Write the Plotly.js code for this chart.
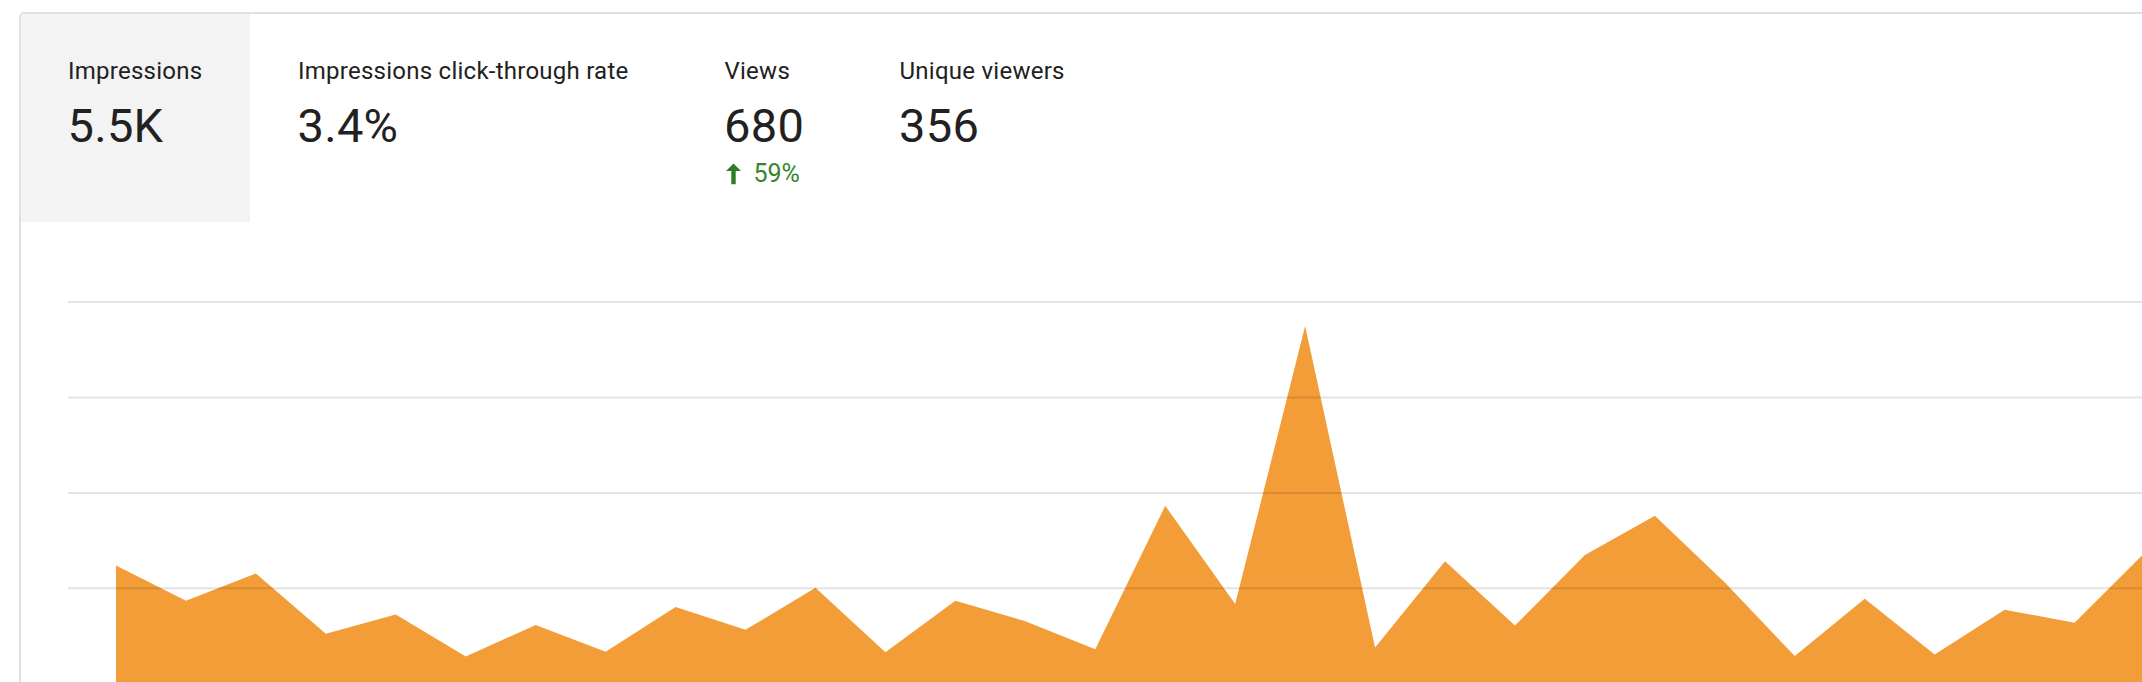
<!DOCTYPE html>
<html>
<head>
<meta charset="utf-8">
<script src="https://cdn.plot.ly/plotly-3.0.1.min.js"></script>
<style>
  html, body { margin: 0; padding: 0; background: #ffffff; width: 2142px; height: 682px; overflow: hidden; font-family: Roboto, "Noto Sans", sans-serif; }
  #card { position: absolute; left: 19px; top: 12px; width: 3000px; height: 1000px; border: 2px solid #e0e0e0; border-radius: 5px; box-sizing: border-box; }
  #tile { position: absolute; left: 21px; top: 14px; width: 229px; height: 208px; background: #f3f3f3; border-top-left-radius: 3px; }
  #chart { position: absolute; left: 0; top: 0; width: 2142px; height: 682px; }
  .lbl { position: absolute; font-size: 24px; line-height: 24px; letter-spacing: 0.25px; color: #212121; white-space: nowrap; top: 58.8px; }
  .num { position: absolute; font-size: 47px; line-height: 47px; letter-spacing: 0.3px; color: #212121; white-space: nowrap; top: 102px; }
  .delta { position: absolute; font-size: 25px; line-height: 25px; color: #34862b; white-space: nowrap; top: 160.6px; }
</style>
</head>
<body>
<div id="card"></div>
<div id="tile"></div>
<div id="chart"></div>
<div id="header"></div>
<script>
// ---- data ----
const days = [1,2,3,4,5,6,7,8,9,10,11,12,13,14,15,16,17,18,19,20,21,22,23,24,25,26,27,28,29,30];
const impressions = [248,174,231,105,145,57,123,67,161,113,201,66,174,131,72,373,167,750,76,257,122,270,352,212,58,178,61,155,128,274];
const gridValues = [200,400,600,800];

const metricLabels = ["Impressions", "Impressions click-through rate", "Views", "Unique viewers"];
const metricValues = ["5.5K", "3.4%", "680", "356"];
const metricDeltas = ["", "", "59%", ""];
const metricLeft = [68, 298, 724.5, 899.5];

// ---- header (metric tiles) ----
const header = document.getElementById('header');
metricLabels.forEach((t, i) => {
  const l = document.createElement('div');
  l.className = 'lbl'; l.style.left = metricLeft[i] + 'px'; l.textContent = t;
  header.appendChild(l);
  const n = document.createElement('div');
  n.className = 'num'; n.style.left = (metricLeft[i] - 0.5) + 'px'; n.textContent = metricValues[i];
  header.appendChild(n);
  if (metricDeltas[i]) {
    const svgNS = 'http://www.w3.org/2000/svg';
    const svg = document.createElementNS(svgNS, 'svg');
    svg.setAttribute('width', '16'); svg.setAttribute('height', '22');
    svg.style.position = 'absolute';
    svg.style.left = (metricLeft[i] + 1.5) + 'px';
    svg.style.top = '162.5px';
    const p = document.createElementNS(svgNS, 'path');
    p.setAttribute('d', 'M0 8 L7.5 0.5 L15 8 Z M5.3 7.5 H9.7 V21.2 H5.3 Z');
    p.setAttribute('fill', '#2e7d24');
    svg.appendChild(p);
    header.appendChild(svg);
    const d = document.createElement('div');
    d.className = 'delta'; d.style.left = (metricLeft[i] + 29) + 'px'; d.textContent = metricDeltas[i];
    header.appendChild(d);
  }
});

// ---- chart ----
const trace = {
  x: days,
  y: impressions,
  type: 'scatter',
  mode: 'lines',
  line: { width: 0, color: '#f29d38' },
  fill: 'tozeroy',
  fillcolor: '#f29d38',
  hoverinfo: 'x+y'
};

const shapes = gridValues.map(v => ({
  type: 'line', xref: 'paper', yref: 'y', x0: 0, x1: 1, y0: v, y1: v,
  line: { color: 'rgba(0,0,0,0.11)', width: 2 }, layer: 'above'
}));

const layout = {
  width: 2142, height: 682,
  margin: { l: 68, r: 0, t: 230, b: 0, pad: 0 },
  paper_bgcolor: 'rgba(0,0,0,0)',
  plot_bgcolor: 'rgba(0,0,0,0)',
  showlegend: false,
  xaxis: { range: [0.314, 29.964], showgrid: false, zeroline: false, showticklabels: false, showline: false, ticks: '', fixedrange: true },
  yaxis: { range: [3.6, 951.2], showgrid: false, zeroline: false, showticklabels: false, showline: false, ticks: '', fixedrange: true },
  shapes: shapes,
  font: { family: 'Roboto, sans-serif' }
};

Plotly.newPlot('chart', [trace], layout, { displayModeBar: false, staticPlot: true });
</script>
</body>
</html>
